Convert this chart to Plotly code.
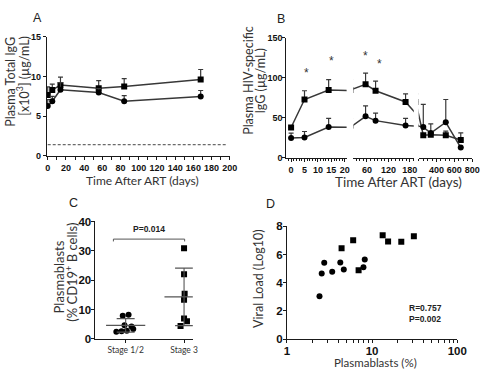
import plotly.graph_objects as go

W, H = 489, 371


def fx(p):
    return p / W


def fy(p):
    return 1 - p / H


# ---------------- Panel A data ----------------
a_days = [0, 5, 14, 56, 84, 168]
a_upper = [7.7, 8.3, 8.95, 8.55, 8.75, 9.65]
a_upper_err = [1.0, 0.75, 1.0, 0.95, 1.0, 1.25]
a_lower = [6.3, 6.9, 8.35, 8.0, 6.9, 7.5]
a_lower_err = [0.8, 0.6, 0.9, 0.5, 0.7, 0.75]
a_lod_days = [0, 197]
a_lod = [1.42, 1.42]

# ---------------- Panel B data ----------------
b_days = [0, 5, 14, 56, 84, 168, 252, 336, 504, 672]
b_upper = [38, 73, 85, 92, 84, 70, 28.4, 29, 28.4, 22.3]
b_upper_err = [0, 11, 13, 14, 12, 10, 0, 0, 5, 9]
b_lower = [25, 25.5, 38.5, 52, 46.6, 40.5, 38.5, 31, 44.6, 13]
b_lower_err = [6, 7.5, 11, 13, 9.5, 9, 28.5, 11.6, 28.4, 0]
b_star_days = [5.7, 15, 56.5, 96]
b_star_vals = [106, 121, 127, 118]

# ---------------- Panel C data ----------------
c_labels = ["Stage 1/2", "Stage 3"]
c_stage12 = [2.41, 2.56, 2.74, 3.40, 4.23, 4.65, 7.91, 8.19]
c_stage12_jit = [-0.16, -0.07, 0.02, 0.13, 0.10, -0.02, -0.05, 0.05]
c_stage3 = [4.38, 5.99, 6.94, 13.3, 15.4, 22.0, 30.9]
c_stage3_jit = [-0.06, 0.05, 0.0, 0.0, 0.01, 0.0, 0.0]
c_mean = [4.6, 14.3]
c_sd = [2.3, 9.8]
c_bracket_x = [-0.21, 1.01]
c_bracket_y = [34, 33.2]

# ---------------- Panel D data ----------------
d_circ_x = [2.41, 2.56, 2.74, 3.40, 4.23, 4.65, 7.91, 8.19]
d_circ_y = [3.04, 4.66, 5.42, 4.78, 5.44, 4.94, 5.10, 5.65]
d_sq_x = [4.38, 5.99, 6.94, 13.3, 15.4, 22.0, 30.9]
d_sq_y = [6.45, 7.02, 4.89, 7.36, 6.93, 6.90, 7.29]

LINE = "#383838"
AX = "#1a1a1a"


def tfont(size):
    return dict(family="Lato", size=size, color="#333333")


TICK_SMALL = dict(family="Liberation Sans", size=9, color="#111111", weight="bold")
TICK_BIG = dict(family="Liberation Sans", size=11.5, color="#111111", weight="bold")

fig = go.Figure()


def series(x, y, err, sym, xa, ya):
    fig.add_trace(go.Scatter(
        x=x, y=y, xaxis=xa, yaxis=ya, mode="lines+markers",
        line=dict(color=LINE, width=1.5),
        marker=dict(symbol=sym, size=6, color="black"),
        error_y=dict(type="data", symmetric=False, array=err,
                     arrayminus=[0] * len(err), color=LINE, thickness=1.2, width=2.5),
        showlegend=False, cliponaxis=True,
    ))


# Panel A
series(a_days, a_upper, a_upper_err, "square", "x", "y")
series(a_days, a_lower, a_lower_err, "circle", "x", "y")
fig.add_trace(go.Scatter(x=a_lod_days, y=a_lod, mode="lines", xaxis="x", yaxis="y",
                         line=dict(color="#444", width=1, dash="3px,2px"), showlegend=False))

# Panel B (three axis segments sharing y2)
for xa in ["x2", "x3", "x4"]:
    series(b_days, b_upper, b_upper_err, "square", xa, "y2")
    series(b_days, b_lower, b_lower_err, "circle", xa, "y2")

# Panel C
fig.add_trace(go.Scatter(
    x=[0 + j for j in c_stage12_jit], y=c_stage12, xaxis="x5", yaxis="y3",
    mode="markers", marker=dict(symbol="circle", size=6, color="black"), showlegend=False))
fig.add_trace(go.Scatter(
    x=[1 + j for j in c_stage3_jit], y=c_stage3, xaxis="x5", yaxis="y3",
    mode="markers", marker=dict(symbol="square", size=6, color="black"), showlegend=False))
fig.add_trace(go.Scatter(
    x=[0, 1], y=c_mean, xaxis="x5", yaxis="y3", mode="markers",
    marker=dict(symbol="line-ew", size=28, line=dict(color="#555", width=1.1)),
    error_y=dict(type="data", array=c_sd, color="#555", thickness=1.1, width=9),
    showlegend=False))

# Panel D
fig.add_trace(go.Scatter(x=d_circ_x, y=d_circ_y, xaxis="x6", yaxis="y4", mode="markers",
                         marker=dict(symbol="circle", size=6, color="black"), showlegend=False))
fig.add_trace(go.Scatter(x=d_sq_x, y=d_sq_y, xaxis="x6", yaxis="y4", mode="markers",
                         marker=dict(symbol="square", size=6, color="black"), showlegend=False))

common = dict(showgrid=False, zeroline=False, showline=True, linecolor=AX, linewidth=1,
              ticks="outside", tickcolor=AX, tickwidth=1, tickangle=0)

fig.update_layout(
    width=W, height=H, margin=dict(l=0, r=0, t=0, b=0),
    paper_bgcolor="white", plot_bgcolor="white",
    xaxis=dict(**common, domain=[fx(45), fx(233)], range=[-1, 200], anchor="y",
               tickvals=list(range(0, 201, 20)), ticklen=3, tickfont=TICK_SMALL,
               minor=dict(dtick=10, tick0=0, ticks="outside", ticklen=3, tickcolor=AX)),
    yaxis=dict(**common, domain=[fy(155), fy(32)], range=[0, 15], anchor="x",
               tickvals=[0, 5, 10, 15], ticklen=3, tickfont=TICK_SMALL),
    xaxis2=dict(**common, domain=[fx(291), fx(353)], range=[-1.8, 20.7], anchor="y2",
                tickvals=[0, 5, 10, 15, 20], ticklen=3, tickfont=TICK_SMALL,
                minor=dict(dtick=1, tick0=0, ticks="outside", ticklen=2, tickcolor=AX)),
    xaxis3=dict(**common, domain=[fx(360), fx(422)], range=[22, 191], anchor="y2",
                tickvals=[60, 120, 180], ticklen=3, tickfont=TICK_SMALL,
                minor=dict(dtick=10, tick0=0, ticks="outside", ticklen=2, tickcolor=AX)),
    xaxis4=dict(**common, domain=[fx(427), fx(482)], range=[200, 800], anchor="y2",
                tickvals=[400, 600, 800], ticklen=3, tickfont=TICK_SMALL,
                minor=dict(dtick=50, tick0=0, ticks="outside", ticklen=2, tickcolor=AX)),
    yaxis2=dict(**common, domain=[fy(157), fy(33)], range=[0, 150], anchor="x2",
                tickvals=[0, 50, 100, 150], ticklen=3, tickfont=TICK_SMALL,
                ticklabelstandoff=-2),
    xaxis5=dict(**common, domain=[fx(95), fx(195)], range=[-0.517, 1.15], anchor="y3",
                tickvals=[0, 1], ticktext=c_labels, ticklen=3,
                tickfont=dict(family="Lato", size=8.5, color="#333")),
    yaxis3=dict(**common, domain=[fy(344), fy(222.7)], range=[0, 40], anchor="x5",
                tickvals=[0, 10, 20, 30, 40], ticklen=3, tickfont=TICK_BIG,
                ticklabelstandoff=-2),
    xaxis6=dict(**common, domain=[fx(291.7), fx(466.7)], type="log", range=[0, 2], anchor="y4",
                tickvals=[1, 10, 100], ticklen=3, tickfont=TICK_BIG, ticklabelstandoff=-2,
                minor=dict(tickvals=[2, 3, 4, 5, 6, 7, 8, 9, 20, 30, 40, 50, 60, 70, 80, 90],
                           ticks="outside", ticklen=2.5, tickcolor=AX)),
    yaxis4=dict(**common, domain=[fy(344.3), fy(227.7)], range=[0, 8], anchor="x6",
                tickvals=[0, 2, 4, 6, 8], ticklen=3, tickfont=TICK_BIG,
                ticklabelstandoff=-2),
)

# bracket in C
fig.add_shape(type="line", xref="x5", yref="y3", x0=c_bracket_x[0], x1=c_bracket_x[1],
              y0=c_bracket_y[0], y1=c_bracket_y[0], line=dict(color="#555", width=1))
for bx in c_bracket_x:
    fig.add_shape(type="line", xref="x5", yref="y3", x0=bx, x1=bx,
                  y0=c_bracket_y[0], y1=c_bracket_y[1], line=dict(color="#555", width=1))

ann = []


def paper_text(txt, x, y, font, angle=0, xanchor="center", yanchor="middle"):
    ann.append(dict(text=txt, x=fx(x), y=fy(y), xref="paper", yref="paper", showarrow=False,
                    font=font, textangle=angle, xanchor=xanchor, yanchor=yanchor))


LETTER = dict(family="Liberation Sans", size=12.5, color="#222")
paper_text("A", 35, 12.5, LETTER)
paper_text("B", 285.5, 13, LETTER)
paper_text("C", 72.5, 204, LETTER)
paper_text("D", 275, 205, LETTER)

paper_text("Plasma Total IgG", 7.5, 78, tfont(12.5), -90)
paper_text("[x10<sup>3</sup>] (µg/mL)", 20.5, 72, tfont(12.5), -90)
paper_text("Plasma HIV-specific", 252, 77, tfont(12.5), -90)
paper_text("IgG (µg/mL)", 265, 77, tfont(12.5), -90)
paper_text("Plasmablasts", 57, 280, tfont(13), -90)
paper_text("(% CD19<sup>+</sup> B cells)", 69.5, 275, tfont(13), -90)
paper_text("Viral Load (Log10)", 263, 282, tfont(12.5), -90)
paper_text("Time After ART (days)", 143, 180, tfont(12))
paper_text("Time After ART (days)", 406, 182, tfont(13.5))
paper_text("Plasmablasts (%)", 383, 368, tfont(11.5))

BOLD_SMALL = dict(family="Liberation Sans", size=8.5, color="#222", weight="bold")
paper_text("P=0.014", 150, 230, BOLD_SMALL)
paper_text("R=0.757", 415, 311.7, BOLD_SMALL, xanchor="left")
paper_text("P=0.002", 415, 323.5, BOLD_SMALL, xanchor="left")

star_axes = ["x2", "x2", "x3", "x3"]
for xa, d, v in zip(star_axes, b_star_days, b_star_vals):
    ann.append(dict(text="*", x=d, y=v, xref=xa, yref="y2", showarrow=False,
                    font=dict(family="Liberation Sans", size=12, color="#333")))

fig.update_layout(annotations=ann)
fig.write_html("out.html")
